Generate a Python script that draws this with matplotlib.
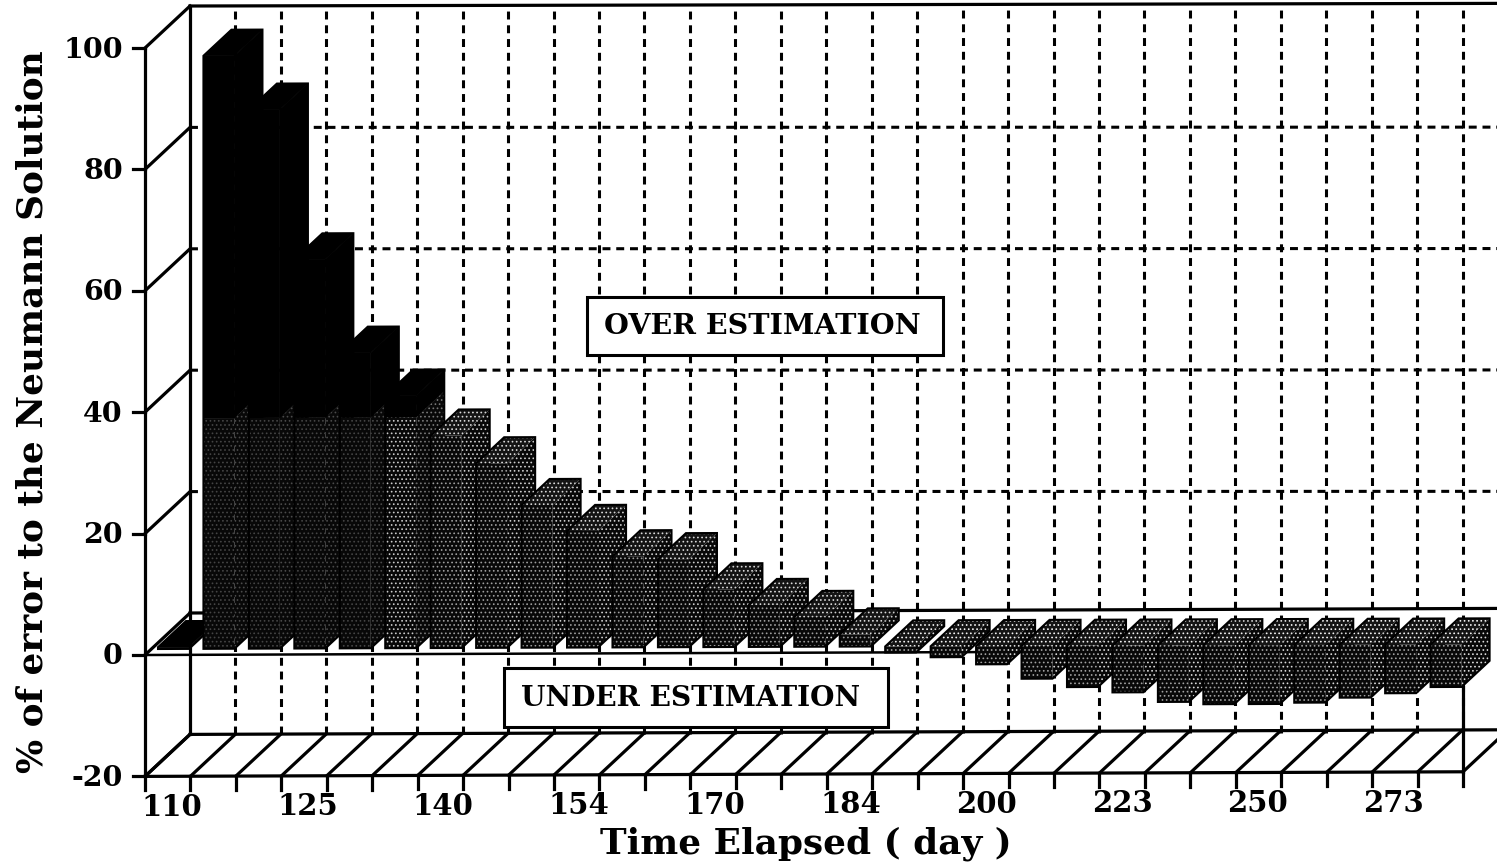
import matplotlib
matplotlib.use("Agg")
import matplotlib.pyplot as plt
from matplotlib.patches import Polygon, Rectangle
from matplotlib.transforms import Affine2D

# ---- data ----
bar_values = [0.3, 97.7, 88.8, 64.1, 48.7, 41.6, 35.0, 30.4, 23.5, 19.2, 15.0, 14.5, 9.5, 6.9, 4.9,
              2.0, -1.0, -1.8, -3.0, -5.4, -6.8, -7.7, -9.3, -9.7, -9.7, -9.5, -8.7, -8.0, -7.0]
x_labels = ["110", "125", "140", "154", "170", "184", "200", "223", "250", "273"]
y_ticks = [-20, 0, 20, 40, 60, 80, 100]
y_label = "% of error to the Neumann Solution"
x_label = "Time Elapsed ( day )"
over_text = "OVER ESTIMATION"
under_text = "UNDER ESTIMATION"

# ---- layout (pixels) ----
W, H = 1497, 868
FONT = "DejaVu Serif"
PX_CAT, X0 = 45.45, 145
PX_VAL, Y0 = 6.07, 655
TILT = 0.0035
N = len(bar_values)

plt.rcParams["hatch.linewidth"] = 0.7
fig = plt.figure(figsize=(W / 100, H / 100), dpi=100)
ax = fig.add_axes([0, 0, 1, 1])
ax.set_xlim(-X0 / PX_CAT, (W - X0) / PX_CAT)
ax.set_ylim(-(H - Y0) / PX_VAL, Y0 / PX_VAL)
ax.axis("off")


def shifted(dx=0, dy=0, tilt=TILT):
    """Oblique depth offset in pixels on top of the data scale."""
    return (ax.transData
            + Affine2D().from_values(1, tilt, 0, 1, 0, -tilt * X0)
            + Affine2D().translate(dx, dy))


BACK_DX, BACK_DY = 45, 42
front = shifted()
lw_solid = 2.3
lw_dash = 2.2
dash = (0, (2.6, 1.9))

# back wall dashed grid
for k in range(1, N):
    ax.plot([k, k], [-20, 100], color="black", lw=lw_dash, ls=dash,
            transform=shifted(BACK_DX, BACK_DY, 0.0012), zorder=1)
for v in y_ticks[2:-1]:
    ax.plot([0, 30], [v, v], color="black", lw=lw_dash, ls=dash,
            transform=shifted(BACK_DX, BACK_DY, 0.0002), zorder=1)

# back wall solid lines
for v in (-20, 0):
    ax.plot([0, 30], [v, v], color="black", lw=lw_solid, transform=shifted(BACK_DX, BACK_DY), zorder=2)
ax.plot([0, 30], [100, 100], color="black", lw=lw_solid, transform=shifted(BACK_DX, BACK_DY, 0.002), zorder=2)
ax.plot([0, 0], [-20, 100], color="black", lw=lw_solid, transform=shifted(BACK_DX, BACK_DY), zorder=2)

# left wall, floor
ax.plot([0, 0], [-20, 100], color="black", lw=lw_solid, transform=front, zorder=2)
ax.plot([0, N], [-20, -20], color="black", lw=lw_solid, transform=front, zorder=2)
ax.plot([0, N], [0, 0], color="black", lw=1.8, transform=front, zorder=2)
ax.plot([N, N], [-20, -6], color="black", lw=lw_solid, transform=front, zorder=2)

for v in y_ticks:
    p0 = front.transform((0, v))
    ax.plot([p0[0], p0[0] + BACK_DX], [p0[1], p0[1] + BACK_DY], color="black", lw=lw_solid,
            transform=None, zorder=2)
    ax.plot([p0[0] - 12, p0[0]], [p0[1], p0[1]], color="black", lw=lw_solid, transform=None, zorder=2)
    ax.text(p0[0] - 22, p0[1] - 2, str(v), ha="right", va="center", family=FONT, weight="bold",
            fontsize=20.5, transform=None, zorder=5)
for c in range(N + 1):
    p0 = front.transform((c, -20))
    ax.plot([p0[0], p0[0] + BACK_DX], [p0[1], p0[1] + BACK_DY], color="black", lw=lw_solid,
            transform=None, zorder=2)
    ax.plot([p0[0], p0[0]], [p0[1] - 14, p0[1]], color="black", lw=lw_solid, transform=None, zorder=2)

# x tick labels, one every third bar
for j, lab in enumerate(x_labels):
    p0 = front.transform((3 * j + 0.5, -20))
    ax.text(p0[0] + 4 - 0.6 * j, p0[1] - 31, lab, ha="center", va="center", family=FONT, weight="bold",
            fontsize=21, transform=None, zorder=5)

# ---- bars ----
BAR_DX, BAR_DY = 13, 6
BAR_W = 31 / PX_CAT
DEPTH_X, DEPTH_Y = 28 / PX_CAT, 26 / PX_VAL
SOLID_ABOVE = 38
bar_tf = shifted(BAR_DX, BAR_DY)
DOTS = "...."


def face(pts, fc, hatch=None, hc="#9a9a9a", z=3.0):
    if hatch:
        ax.add_patch(Polygon(pts, closed=True, facecolor=fc, edgecolor=hc, hatch=hatch, lw=0,
                             transform=bar_tf, zorder=z))
    else:
        ax.add_patch(Polygon(pts, closed=True, facecolor=fc, edgecolor=fc, lw=0.5,
                             transform=bar_tf, zorder=z))


for i, v in enumerate(bar_values):
    z = 3 + i * 0.01
    lo, hi = min(v, 0), max(v, 0)
    xl, xr = i, i + BAR_W
    xb = xr + DEPTH_X
    top = [(xl, hi), (xr, hi), (xb, hi + DEPTH_Y), (xl + DEPTH_X, hi + DEPTH_Y)]
    if i == 0:
        hc_side = hc_front = hc_top = "black"
    elif i < 5:
        hc_side, hc_front, hc_top = "#4a4a4a", "#444444", "black"
    elif i == 5:
        hc_side, hc_front, hc_top = "#777777", "#c8c8c8", "black"
    elif i < 16:
        hc_side, hc_front, hc_top = "#cccccc", "#9c9c9c", "#d8d8d8"
    else:
        hc_side, hc_front, hc_top = "#d8d8d8", "#a0a0a0", "#f2f2f2"
    split = SOLID_ABOVE if hi > SOLID_ABOVE else hi
    if hi > SOLID_ABOVE:
        face([(xr, split), (xb, split + DEPTH_Y), (xb, hi + DEPTH_Y), (xr, hi)], "black", z=z)
        face([(xl, split), (xr, split), (xr, hi), (xl, hi)], "black", z=z)
    face([(xr, lo), (xb, lo + DEPTH_Y), (xb, split + DEPTH_Y), (xr, split)], "#080808", DOTS, hc_side, z)
    face([(xl, lo), (xr, lo), (xr, split), (xl, split)], "#080808", DOTS, hc_front, z)
    if hc_top == "black":
        face(top, "black", z=z + 0.001)
    else:
        face(top, "#141414", DOTS, hc_top, z + 0.001)
    # outer silhouette only, no inner edges
    ax.add_patch(Polygon([(xl, lo), (xr, lo), (xb, lo + DEPTH_Y), (xb, hi + DEPTH_Y),
                          (xl + DEPTH_X, hi + DEPTH_Y), (xl, hi)], closed=True, fill=False,
                         edgecolor="black", lw=1.5, transform=bar_tf, zorder=z + 0.002))


# ---- annotation boxes ----
def box(x0, y0, x1, y1, text, size, xc):
    ax.add_patch(Rectangle((x0 / W, 1 - y1 / H), (x1 - x0) / W, (y1 - y0) / H, facecolor="white",
                           edgecolor="black", lw=2.2, transform=ax.transAxes, zorder=6))
    ax.text(xc / W, 1 - ((y0 + y1) / 2 + 1) / H, text, ha="center", va="center", family=FONT,
            weight="bold", fontsize=size, transform=ax.transAxes, zorder=7)


box(587, 297, 943, 355, over_text, 20.5, 762)
box(504, 668, 888, 727, under_text, 20.2, 691)

# ---- axis titles ----
ax.text(33 / W, 1 - 412 / H, y_label, rotation=90, ha="center", va="center", family=FONT, weight="bold",
        fontsize=25.8, transform=ax.transAxes, zorder=5)
ax.text(806 / W, 1 - 844 / H, x_label, ha="center", va="center", family=FONT, weight="bold",
        fontsize=25.8, transform=ax.transAxes, zorder=5)

fig.savefig("out.png", dpi=100)
